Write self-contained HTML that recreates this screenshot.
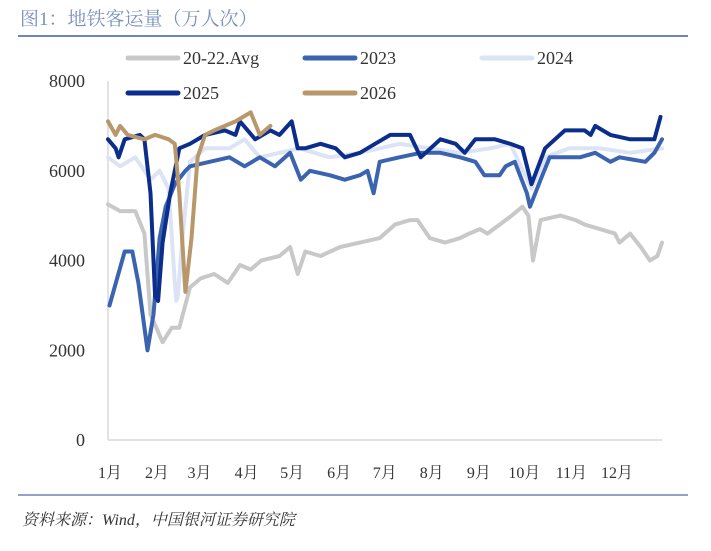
<!DOCTYPE html>
<html><head><meta charset="utf-8"><style>
body{margin:0;width:711px;height:546px;background:#fff;overflow:hidden;font-family:"Liberation Serif","Noto Serif CJK SC",serif}
</style></head><body>
<svg width="711" height="546" viewBox="0 0 711 546">
<text x="20" y="25" font-size="19" fill="#7a90c2" font-family="Liberation Serif,'Noto Serif CJK SC',serif">图1：地铁客运量（万人次）</text>
<line x1="18" y1="36" x2="688" y2="36" stroke="#6f86bb" stroke-width="2"/>
<line x1="18" y1="495" x2="688" y2="495" stroke="#6f86bb" stroke-width="1.5"/>
<text x="22" y="525" font-size="16" font-style="italic" fill="#333" font-family="Liberation Serif,'Noto Serif CJK SC',serif">资料来源：Wind，中国银河证券研究院</text>
<g id="axes"></g><g id="plot"></g><g id="legend"></g>
</svg>
<script>
const yTicks=[0,2000,4000,6000,8000];
const months=["1月","2月","3月","4月","5月","6月","7月","8月","9月","10月","11月","12月"];
const monthDays=[0,31,59,90,120,151,181,212,243,273,304,334];
const seriesNames=["20-22.Avg","2023","2024","2025","2026"];
const seriesColors=["#c8c8c8","#3a63b0","#dbe3f4","#0b2d8c","#b8976a"];
const avgDays=[0,8,18,24,28,36,42,47,54,61,70,79,87,94,101,113,120,125,130,140,153,166,179,189,199,204,212,222,232,238,245,250,258,266,273,277,280,285,298,308,314,324,334,337,344,351,357,362,365];
const avgVals=[5250,5100,5100,4600,2800,2180,2500,2500,3400,3600,3700,3500,3900,3800,4000,4100,4300,3700,4200,4100,4300,4400,4500,4800,4900,4900,4500,4400,4500,4600,4700,4600,4800,5000,5200,5000,4000,4900,5000,4900,4800,4700,4600,4400,4600,4300,4000,4100,4400];
const s23Days=[1,6,11,16,20,26,30,34,38,44,51,54,67,80,90,100,110,120,127,133,146,156,166,171,175,179,192,206,219,232,242,248,258,262,268,276,278,285,291,311,321,331,337,354,360,365];
const s23Vals=[3000,3600,4200,4200,3500,2000,2800,4500,5200,5700,6000,6100,6200,6300,6100,6300,6100,6400,5800,6000,5900,5800,5900,6000,5500,6200,6300,6400,6400,6300,6200,5900,5900,6100,6200,5500,5200,5800,6300,6300,6400,6200,6300,6200,6400,6700];
const s24Days=[0,8,18,24,28,34,40,44,45,46,49,54,64,80,90,100,113,126,146,166,192,212,232,252,265,279,288,304,324,344,365];
const s24Vals=[6300,6100,6300,6000,5800,6000,5600,3500,3100,3200,4500,6200,6500,6500,6700,6300,6400,6500,6300,6400,6600,6500,6400,6500,6600,5600,6300,6500,6500,6400,6500];
const s25Days=[0,5,7,11,21,24,28,31,33,36,41,44,47,54,64,77,84,87,97,107,113,121,125,130,140,150,156,166,176,186,199,206,219,229,235,242,255,265,273,279,288,301,314,318,321,331,344,360,364];
const s25Vals=[6700,6500,6300,6700,6800,6700,5500,3200,3100,4400,5500,6000,6500,6600,6800,6900,6800,7100,6700,6900,6800,7100,6500,6500,6600,6500,6300,6400,6600,6800,6800,6300,6700,6600,6400,6700,6700,6600,6500,5700,6500,6900,6900,6800,7000,6800,6700,6700,7200];
const s26Days=[0,5,8,13,24,31,40,44,47,51,55,59,64,70,77,84,94,100,107];
const s26Vals=[7100,6800,7000,6800,6700,6800,6700,6600,5500,3300,4500,6300,6800,6900,7000,7100,7300,6800,7000];
const X0=108,X1=662,Y0=440,Y1=81;
const xS=d=>X0+d*(X1-X0)/365;
const yS=v=>Y0-v*(Y0-Y1)/8000;
const NS="http://www.w3.org/2000/svg";
function mk(t,a,p){const e=document.createElementNS(NS,t);for(const k in a)e.setAttribute(k,a[k]);p.appendChild(e);return e;}
const axes=document.getElementById('axes'),plot=document.getElementById('plot'),leg=document.getElementById('legend');
let ya=mk('line',{x1:X0,y1:Y1,x2:X0,y2:Y0,stroke:'#d9d9d9','stroke-width':1.5},axes);


let xa=mk('line',{x1:X0,y1:Y0,x2:X1,y2:Y0,stroke:'#d9d9d9','stroke-width':1.5},axes);


yTicks.forEach(v=>{const t=mk('text',{x:85,y:yS(v)+6,'text-anchor':'end','font-size':18,fill:'#333'},axes);t.textContent=v;

});
months.forEach((m,i)=>{const t=mk('text',{x:xS(monthDays[i])+2,y:478,'text-anchor':'middle','font-size':16,fill:'#333'},axes);t.textContent=m;

});
const allDays=[avgDays,s23Days,s24Days,s25Days,s26Days],allVals=[avgVals,s23Vals,s24Vals,s25Vals,s26Vals];
const order=[0,2,1,3,4];
order.forEach(i=>{const pts=allDays[i].map((d,j)=>xS(d).toFixed(1)+','+yS(allVals[i][j]).toFixed(1)).join(' ');
const p=mk('polyline',{points:pts,fill:'none',stroke:seriesColors[i],'stroke-width':4,'stroke-linejoin':'round','stroke-linecap':'round'},plot);

});
const lp=[[128,58],[305,58],[482,58],[128,93],[305,93]];
seriesNames.forEach((n,i)=>{const g=mk('g',{},leg);


mk('line',{x1:lp[i][0],y1:lp[i][1],x2:lp[i][0]+50,y2:lp[i][1],stroke:seriesColors[i],'stroke-width':5,'stroke-linecap':'round'},g);
const t=mk('text',{x:lp[i][0]+55,y:lp[i][1]+6,'font-size':18,fill:'#333'},g);t.textContent=n;});
</script>
</body></html>
